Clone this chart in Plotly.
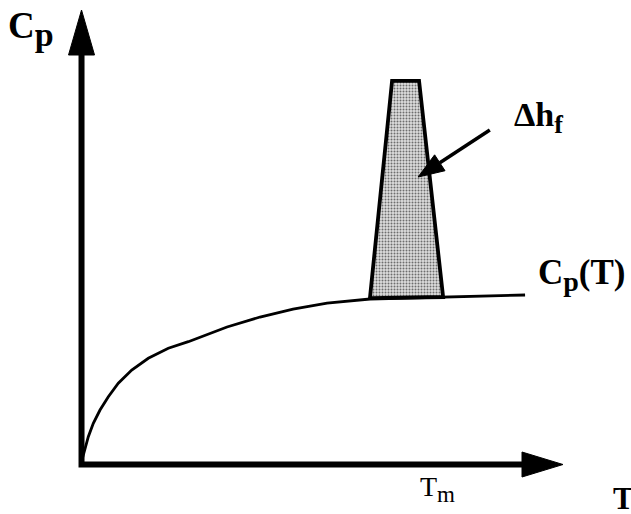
import math
import plotly.graph_objects as go

W, H = 631, 514

# Schematic heat capacity curve C_p(T) (axis tips sit at 100 units)
t_curve = [0.1, 0.73, 1.41, 2.45, 3.84, 5.57, 7.64, 10.43, 13.87, 18.03, 22.18,
           30.22, 37.07, 43.93, 51.0, 59.93, 75.09, 92.12]
cp_curve = [1.0, 3.19, 6.12, 9.06, 11.99, 14.92, 17.87, 20.79, 23.37, 25.57, 27.02,
            30.25, 32.45, 34.21, 35.53, 36.41, 36.85, 37.29]

# Melting peak (latent heat of fusion) outline
t_peak = [59.9, 64.5, 70.1, 75.1, 59.9]
cp_peak = [36.6, 84.4, 84.4, 36.85, 36.6]

# Pointer for the Δh_f label: tail -> tip
arrow_tail = (84.8, 73.6)
arrow_tip = (69.9, 63.25)

# Axis extents
T_END = 100.0
CP_END = 100.0

X0, X1 = -16.93, 114.12
Y0, Y1 = -10.89, 102.2
sx = W / (X1 - X0)
sy = H / (Y1 - Y0)

FONT = "Liberation Serif"


def head_path(tip, tail, length, half):
    """Filled triangular arrowhead (sizes in pixels) returned as an SVG path in data units."""
    tx, ty = tip[0] * sx, tip[1] * sy
    bx, by = tail[0] * sx, tail[1] * sy
    dx, dy = tx - bx, ty - by
    n = math.hypot(dx, dy)
    ux, uy = dx / n, dy / n
    cx, cy = tx - ux * length, ty - uy * length
    nx, ny = -uy, ux
    p1 = (cx + nx * half, cy + ny * half)
    p2 = (cx - nx * half, cy - ny * half)
    pts = [(tx, ty), p1, p2]
    d = "M " + " L ".join(f"{x / sx:.4f},{y / sy:.4f}" for x, y in pts) + " Z"
    base = (cx / sx, cy / sy)
    return d, base


def sub(text, size):
    return f"<sub><span style='font-size:{size}px'>{text}</span></sub>"


fig = go.Figure()

# C_p(T) curve
fig.add_trace(go.Scatter(
    x=t_curve, y=cp_curve, mode="lines",
    line=dict(color="black", width=2.8, shape="linear"),
    hoverinfo="skip", showlegend=False,
))

# Melting peak with stippled fill
fig.add_trace(go.Scatter(
    x=t_peak, y=cp_peak, mode="lines", fill="toself",
    fillcolor="#d0d0d0",
    fillpattern=dict(shape=".", fgcolor="#6e6e6e", bgcolor="#dedede",
                     size=3, solidity=0.35, fillmode="replace"),
    line=dict(color="black", width=3.8),
    hoverinfo="skip", showlegend=False,
))

shapes = []

# Axes with arrowheads
x_head, x_base = head_path((T_END, 0), (0, 0), 41, 12.5)
y_head, y_base = head_path((0, CP_END), (0, 0), 45, 13)
shapes.append(dict(type="path",
                   path=f"M 0,{y_base[1]:.4f} L 0,0 L {x_base[0]:.4f},0",
                   line=dict(color="black", width=6)))
shapes.append(dict(type="path", path=x_head, fillcolor="black", line=dict(color="black", width=1)))
shapes.append(dict(type="path", path=y_head, fillcolor="black", line=dict(color="black", width=1)))

# Pointer arrow to the peak
p_head, p_base = head_path(arrow_tip, arrow_tail, 26, 9.5)
shapes.append(dict(type="line", x0=arrow_tail[0], y0=arrow_tail[1], x1=p_base[0], y1=p_base[1],
                   line=dict(color="black", width=3.5)))
shapes.append(dict(type="path", path=p_head, fillcolor="black", line=dict(color="black", width=1)))

# (text, x, y, font size)
labels = [
    ("<b>C" + sub("p", 34) + "</b>", -15.6, 95.9, 37),
    ("<b>Δh" + sub("f", 26) + "</b>", 89.4, 76.3, 34),
    ("<b>C" + sub("p", 28) + "(T)</b>", 94.3, 41.6, 35),
    ("T" + sub("m", 23), 69.9, -5.4, 28),
    ("<b>T</b>", 109.9, -7.4, 31),
]
annotations = [
    dict(text=t, x=x, y=y, xref="x", yref="y", xanchor="left", yanchor="middle",
         showarrow=False, font=dict(family=FONT, size=s, color="black"))
    for t, x, y, s in labels
]

fig.update_layout(
    width=W, height=H,
    margin=dict(l=0, r=0, t=0, b=0),
    paper_bgcolor="white", plot_bgcolor="white",
    font=dict(family=FONT),
    xaxis=dict(range=[X0, X1], visible=False, fixedrange=True),
    yaxis=dict(range=[Y0, Y1], visible=False, fixedrange=True),
    shapes=shapes,
    annotations=annotations,
    showlegend=False,
)

fig.write_html("out.html")
